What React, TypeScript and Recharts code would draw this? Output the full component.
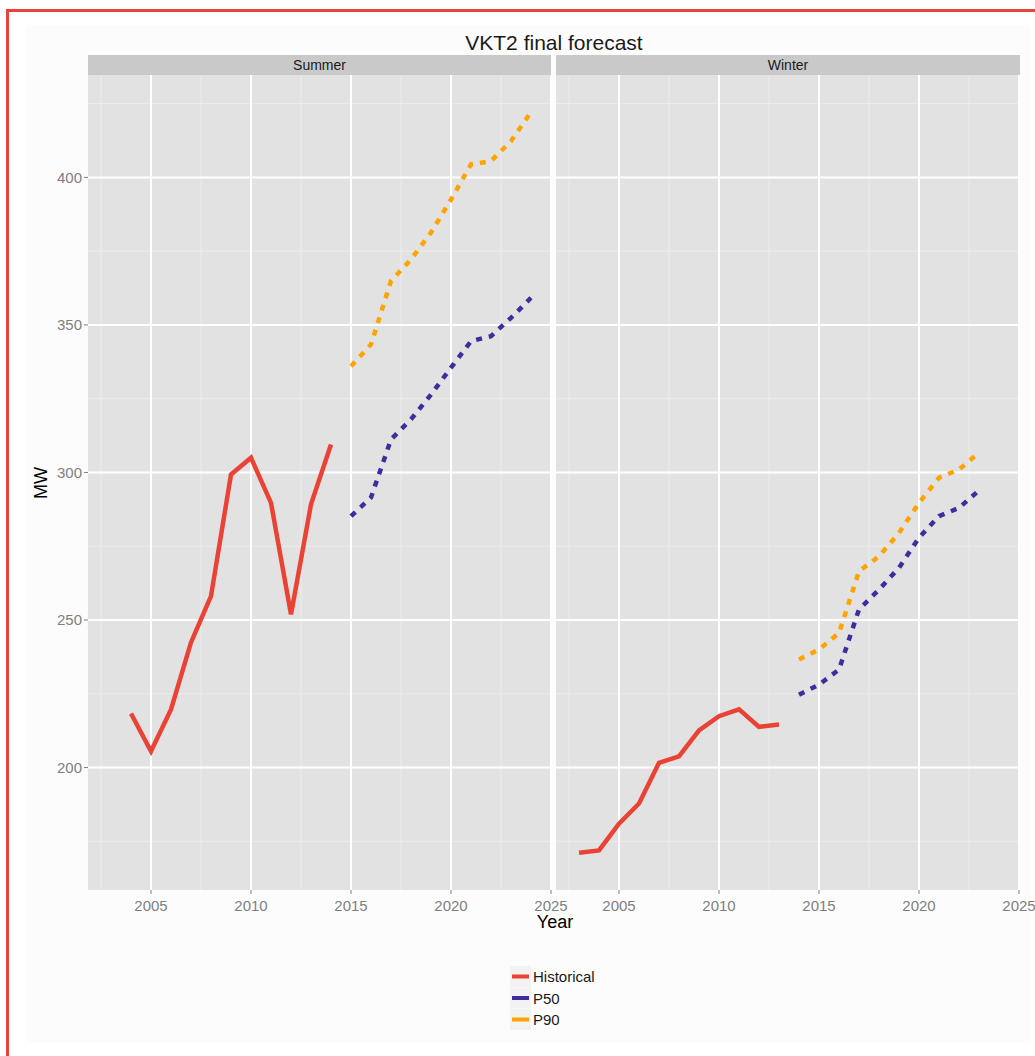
import React from "react";
import { LineChart, Line, XAxis, YAxis, CartesianGrid } from "recharts";

// values
const summerHistYears = [2004, 2005, 2006, 2007, 2008, 2009, 2010, 2011, 2012, 2013, 2014];
const summerHistorical = [218.3, 205.5, 219.7, 242.4, 258.1, 299.3, 305.0, 289.7, 251.9, 289.2, 309.5];
const summerFcYears = [2015, 2016, 2017, 2018, 2019, 2020, 2021, 2022, 2023, 2024];
const summerP50 = [285.2, 291.5, 311.2, 318.0, 326.4, 335.5, 344.5, 346.2, 352.4, 359.2];
const summerP90 = [336.0, 343.4, 364.9, 372.2, 381.3, 392.5, 404.4, 405.5, 412.3, 422.1];

const winterHistYears = [2003, 2004, 2005, 2006, 2007, 2008, 2009, 2010, 2011, 2012, 2013];
const winterHistorical = [171.1, 171.9, 181.0, 187.8, 201.6, 203.8, 212.6, 217.4, 219.7, 213.8, 214.6];
const winterFcYears = [2014, 2015, 2016, 2017, 2018, 2019, 2020, 2021, 2022, 2023];
const winterP50 = [224.7, 228.1, 233.2, 253.6, 260.3, 267.7, 277.9, 285.2, 288.0, 293.9];
const winterP90 = [236.6, 240.0, 245.6, 266.5, 271.6, 279.5, 289.7, 298.2, 301.0, 306.7];

const xTicks = [2005, 2010, 2015, 2020, 2025];
const xMinor = [2002.5, 2007.5, 2012.5, 2017.5, 2022.5];
const yTicks = [200, 250, 300, 350, 400];
const yMinor = [175, 225, 275, 325, 375, 425];
const xDomain = [2001.85, 2025.0];
const yDomain = [158.5, 434.7];

const series = [
  { name: "Historical", color: "#ea4336", dash: undefined as string | undefined },
  { name: "P50", color: "#3d2e9e", dash: "6 7" },
  { name: "P90", color: "#ffa300", dash: "6 7" },
];

const font = '"Liberation Sans", Arial, sans-serif';

const toRows = (years: number[], vals: number[]) => vals.map((v, i) => ({ year: years[i], v }));

function Facet(props: {
  hist: any[];
  p50: any[];
  p90: any[];
  showY: boolean;
  width: number;
  margin: { top: number; right: number; bottom: number; left: number };
}) {
  const { hist, p50, p90, showY, width, margin } = props;
  const sets = [hist, p50, p90];
  return (
    <LineChart width={width} height={960} margin={margin}>
      <CartesianGrid
        fill="#e2e2e2"
        stroke="#ededed"
        strokeWidth={1}
        horizontalValues={yMinor}
        verticalValues={xMinor}
      />
      <CartesianGrid stroke="#ffffff" strokeWidth={2} horizontalValues={yTicks} verticalValues={xTicks} />
      <XAxis
        type="number"
        dataKey="year"
        domain={xDomain}
        allowDataOverflow
        ticks={xTicks}
        axisLine={false}
        tickLine={{ stroke: "#7f7f7f" }}
        tickSize={4}
        tickMargin={6}
        height={30}
        tick={{ fill: "#7f7f7f", fontSize: 15, fontFamily: font }}
      />
      <YAxis
        type="number"
        domain={yDomain}
        allowDataOverflow
        ticks={yTicks}
        hide={!showY}
        width={60}
        axisLine={false}
        tickLine={{ stroke: "#7f7f7f" }}
        tickSize={4}
        tickMargin={2}
        tick={{ fill: "#7f7f7f", fontSize: 15, fontFamily: font }}
      />
      {series.map((s, i) => (
        <Line
          key={s.name}
          data={sets[i]}
          dataKey="v"
          type="linear"
          stroke={s.color}
          strokeWidth={4.5}
          strokeDasharray={s.dash}
          dot={false}
          activeDot={false}
          isAnimationActive={false}
        />
      ))}
    </LineChart>
  );
}

export default function App() {
  const legendTop = 966;
  const row = 21.5;
  return (
    <div style={{ position: "absolute", left: 0, top: 0, width: 1035, height: 1056, background: "#fff", overflow: "hidden" }}>
      <svg width={1035} height={1056} style={{ position: "absolute", left: 0, top: 0 }}>
        <rect x={26} y={25} width={1005} height={1018} fill="#fcfcfc" />
        <line x1={7.5} y1={9} x2={7.5} y2={1056} stroke="#e8433a" strokeWidth={3} />
        <line x1={6} y1={10.5} x2={1035} y2={10.5} stroke="#e8433a" strokeWidth={3} />
        <text x={554} y={50} textAnchor="middle" fontSize={21} fontFamily={font} fill="#1a1a1a">
          VKT2 final forecast
        </text>
        <rect x={88} y={55} width={463} height={20} fill="#c9c9c9" />
        <rect x={556} y={55} width={464} height={20} fill="#c9c9c9" />
        <text x={319.5} y={70} textAnchor="middle" fontSize={14} fontFamily={font} fill="#1a1a1a">
          Summer
        </text>
        <text x={788} y={70} textAnchor="middle" fontSize={14} fontFamily={font} fill="#1a1a1a">
          Winter
        </text>
        <text transform="translate(47,483) rotate(-90)" textAnchor="middle" fontSize={18} fontFamily={font} fill="#000">
          MW
        </text>
        <text x={555} y={928} textAnchor="middle" fontSize={18} fontFamily={font} fill="#000">
          Year
        </text>
        {series.map((s, i) => (
          <g key={s.name}>
            <rect x={510} y={legendTop + i * row} width={21} height={21} fill="#f2f2f2" />
            <line
              x1={512}
              x2={529}
              y1={legendTop + i * row + 10.5}
              y2={legendTop + i * row + 10.5}
              stroke={s.color}
              strokeWidth={4}
            />
            <text x={533} y={legendTop + i * row + 16} fontSize={15} fontFamily={font} fill="#1a1a1a">
              {s.name}
            </text>
          </g>
        ))}
      </svg>
      <div style={{ position: "absolute", left: 0, top: 0 }}>
        <Facet
          hist={toRows(summerHistYears, summerHistorical)}
          p50={toRows(summerFcYears, summerP50)}
          p90={toRows(summerFcYears, summerP90)}
          showY
          width={600}
          margin={{ top: 75, right: 49, bottom: 40, left: 28 }}
        />
      </div>
      <div style={{ position: "absolute", left: 540, top: 0 }}>
        <Facet
          hist={toRows(winterHistYears, winterHistorical)}
          p50={toRows(winterFcYears, winterP50)}
          p90={toRows(winterFcYears, winterP90)}
          showY={false}
          width={495}
          margin={{ top: 75, right: 16, bottom: 40, left: 16 }}
        />
      </div>
    </div>
  );
}
